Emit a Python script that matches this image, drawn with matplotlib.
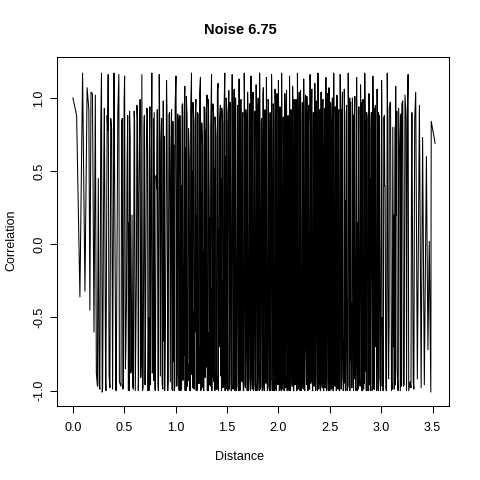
import numpy as np
import matplotlib
matplotlib.use("Agg")
import matplotlib.pyplot as plt

plt.rcParams['font.family'] = ['Liberation Sans', 'DejaVu Sans']

title = "Noise 6.75"
x_label = "Distance"
y_label = "Correlation"
x_ticks = [0.0, 0.5, 1.0, 1.5, 2.0, 2.5, 3.0, 3.5]
y_ticks = [-1.0, -0.5, 0.0, 0.5, 1.0]

# main swings
distance = [
    0.000, 0.036, 0.068, 0.094, 0.117, 0.138, 0.155, 0.165, 0.176, 0.190, 0.205, 0.218, 0.228, 0.238,
    0.247, 0.262, 0.278, 0.285, 0.301, 0.318, 0.333, 0.343, 0.360, 0.377, 0.400, 0.418, 0.432, 0.447, 0.468,
    0.480, 0.492, 0.503, 0.515, 0.527, 0.540, 0.551, 0.563, 0.575, 0.588,
    0.600, 0.612, 0.623, 0.636, 0.648, 0.660, 0.671, 0.683, 0.695, 0.708,
    0.720, 0.731, 0.743, 0.755, 0.768, 0.780, 0.791, 0.803, 0.815, 0.828,
    0.840, 0.851, 0.863, 0.875, 0.888, 0.900, 0.911, 0.923, 0.935, 0.948,
    0.960, 0.970, 0.981, 0.992, 1.003, 1.014, 1.025, 1.035, 1.046, 1.057,
    1.068, 1.079, 1.089, 1.100, 1.111, 1.122, 1.133, 1.143, 1.154, 1.165,
    1.176, 1.187, 1.197, 1.208, 1.219, 1.230, 1.241, 1.251, 1.262, 1.273,
    1.284, 1.295, 1.305, 1.316, 1.327, 1.338, 1.349, 1.359, 1.370, 1.381,
    1.392, 1.403, 1.413, 1.424, 1.435, 1.446, 1.457, 1.467, 1.478, 1.489,
    1.500, 1.508, 1.517, 1.525, 1.533, 1.542, 1.550, 1.558, 1.567, 1.575,
    1.583, 1.592, 1.600, 1.608, 1.617, 1.625, 1.633, 1.642, 1.650, 1.658,
    1.667, 1.675, 1.683, 1.692, 1.700, 1.708, 1.717, 1.725, 1.733, 1.742,
    1.750, 1.758, 1.767, 1.775, 1.783, 1.792, 1.800, 1.808, 1.817, 1.825,
    1.833, 1.842, 1.850, 1.858, 1.867, 1.875, 1.883, 1.892, 1.900, 1.908,
    1.917, 1.925, 1.933, 1.942, 1.950, 1.958, 1.967, 1.975, 1.983, 1.992,
    2.000, 2.008, 2.015, 2.023, 2.031, 2.038, 2.046, 2.054, 2.062, 2.069,
    2.077, 2.085, 2.092, 2.100, 2.108, 2.115, 2.123, 2.131, 2.138, 2.146,
    2.154, 2.162, 2.169, 2.177, 2.185, 2.192, 2.200, 2.208, 2.215, 2.223,
    2.231, 2.238, 2.246, 2.254, 2.262, 2.269, 2.277, 2.285, 2.292, 2.300,
    2.308, 2.315, 2.323, 2.331, 2.338, 2.346, 2.354, 2.362, 2.369, 2.377,
    2.385, 2.392, 2.400, 2.408, 2.415, 2.423, 2.431, 2.438, 2.446, 2.454,
    2.462, 2.469, 2.477, 2.485, 2.492, 2.500, 2.508, 2.515, 2.523, 2.531,
    2.538, 2.546, 2.554, 2.562, 2.569, 2.577, 2.585, 2.592,
    2.601, 2.611, 2.619, 2.630, 2.641, 2.649, 2.660, 2.671, 2.679, 2.690,
    2.701, 2.709, 2.720, 2.731, 2.739, 2.750, 2.761, 2.769, 2.780, 2.791,
    2.799, 2.810, 2.821, 2.829, 2.840, 2.851, 2.859, 2.870, 2.881, 2.889,
    2.900, 2.911, 2.919, 2.930, 2.941, 2.949, 2.960, 2.971, 2.979, 2.990,
    3.004, 3.018, 3.031, 3.045, 3.059, 3.072, 3.086, 3.100, 3.113, 3.127, 3.141, 3.155, 3.170, 3.186,
    3.201, 3.216, 3.232, 3.247, 3.262, 3.281, 3.299, 3.318, 3.336, 3.352,
    3.372, 3.389, 3.403, 3.420, 3.440, 3.455, 3.468, 3.483, 3.487, 3.525,
]

correlation = [
    1.00, 0.88, -0.36, 1.17, -0.32, 1.07, 0.92, -0.45, 1.04, 1.03, -0.60, 1.02, -0.88, -0.97,
    0.45, -0.99, 1.17, -1.01, 0.62, -0.93, 0.88, 1.16, -0.98, 0.79, 1.17, -1.00, 0.35, 1.16, -0.97,
    0.86, -0.95, 1.15, -0.72, 0.52, -1.00, 0.91, -0.88, 0.20, -0.99,
    0.84, -0.64, 0.95, -1.00, 0.70, -0.91, 1.16, -0.98, 0.88, -0.45,
    0.93, -1.00, 0.61, -0.96, 1.17, -0.83, 0.90, -1.00, 0.38, -0.97,
    1.16, -0.90, 0.86, -0.99, 0.74, -0.55, 1.12, -1.00, 0.89, -0.94,
    0.92, -1.00, 0.68, -0.97, 1.15, -0.88, 0.85, -1.00, 0.42, -0.99,
    0.96, -0.76, 1.08, -1.00, 0.87, -0.93, 0.57, -1.00, 1.17, -0.98,
    0.82, -0.60, 0.99, -1.00, 0.89, -0.95, 1.14, -0.99, 0.66, -1.00,
    0.93, -0.84, 1.02, -1.00, 0.31, -0.97, 1.16, -0.91, 0.88, -1.00,
    0.74, -0.99, 1.10, -0.70, 0.95, -1.00, 0.83, -0.96, 1.17, -0.99,
    0.90, -1.00, 1.05, -0.93, 0.78, -1.00, 1.16, -0.99, 0.95, -0.81,
    1.00, -1.00, 0.64, -0.97, 1.13, -1.00, 0.98, -0.90, 0.86, -1.00,
    1.17, -0.96, 0.92, -0.72, 1.04, -1.00, 0.80, -0.99, 1.15, -0.94,
    0.97, -1.00, 0.55, -0.98, 1.09, -1.00, 0.94, -0.87, 1.17, -0.99,
    0.83, -1.00, 1.02, -0.95, 0.91, -0.66, 1.14, -1.00, 0.99, -0.97,
    0.72, -1.00, 1.16, -0.92, 0.96, -1.00, 1.06, -0.99, 0.87, -0.85,
    1.12, -1.00, 0.94, -0.97, 1.17, -0.99, 0.86, -1.00, 1.03, -0.91,
    0.97, -1.00, 0.61, -0.98, 1.15, -1.00, 0.92, -0.84, 1.08, -1.00,
    0.99, -0.96, 0.77, -1.00, 1.17, -0.99, 0.90, -0.93, 1.05, -1.00,
    0.84, -0.98, 1.13, -1.00, 0.96, -0.75, 1.01, -1.00, 0.89, -0.99,
    1.16, -0.95, 0.93, -1.00, 0.70, -0.97, 1.10, -1.00, 0.98, -0.88,
    1.17, -0.99, 0.85, -1.00, 1.04, -0.94, 0.95, -1.00, 0.66, -0.98,
    1.14, -1.00, 0.91, -0.90, 1.07, -1.00, 0.97, -0.99, 0.82, -1.00,
    1.17, -0.96, 0.94, -1.00, 1.02, -0.86, 0.88, -1.00,
    1.16, -0.99, 0.93, -1.00, 1.06, -0.95, 0.85, -1.00, 1.17, -0.98,
    0.96, -0.80, 1.00, -1.00, 0.88, -0.97, 1.14, -1.00, 0.74, -0.93,
    1.09, -1.00, 0.95, -0.99, 1.17, -0.87, 0.90, -1.00, 1.03, -0.96,
    0.79, -1.00, 1.15, -0.99, 0.92, -0.70, 1.06, -1.00, 0.86, -0.95,
    1.12, -1.00, 0.88, -0.98, 1.17, -0.92, 0.97, -1.00, 0.80, -0.99, 1.08, -0.85, 0.93, -1.00,
    0.96, -0.97, 1.02, -1.00, 1.16, -0.94, 0.90, -0.99, 1.04, -0.92,
    0.95, -0.98, 0.73, -0.96, 0.60, -0.72, 0.02, -1.01, 0.84, 0.69,
]

# intermediate readings in the dense middle section
distance_mid = [
    0.521, 0.545, 0.569, 0.594, 0.618, 0.642, 0.666, 0.689, 0.714, 0.737,
    0.761, 0.786, 0.809, 0.834, 0.857, 0.882, 0.905, 0.929, 0.954, 0.976,
    1.008, 1.030, 1.052, 1.073, 1.095, 1.117, 1.138, 1.160, 1.181, 1.203,
    1.225, 1.246, 1.268, 1.289, 1.311, 1.333, 1.354, 1.376, 1.397, 1.419,
    1.441, 1.462, 1.484,
    1.504, 1.521, 1.538, 1.554, 1.571, 1.588, 1.604, 1.621, 1.638, 1.654,
    1.671, 1.688, 1.704, 1.721, 1.738, 1.754, 1.771, 1.788, 1.804, 1.821,
    1.838, 1.854, 1.871, 1.888, 1.904, 1.921, 1.938, 1.954, 1.971, 1.988,
    2.004, 2.019, 2.035, 2.050, 2.066, 2.081, 2.096, 2.112, 2.127, 2.142,
    2.158, 2.173, 2.188, 2.204, 2.219, 2.235, 2.250, 2.265, 2.281, 2.296,
    2.312, 2.327, 2.342, 2.358, 2.373, 2.389, 2.404, 2.419, 2.435, 2.450,
    2.466, 2.481, 2.496, 2.512, 2.527, 2.542, 2.558, 2.573, 2.589,
    2.606, 2.625, 2.645, 2.665, 2.685, 2.705, 2.725, 2.745, 2.765, 2.785,
    2.805, 2.825, 2.845, 2.865, 2.885, 2.905, 2.925, 2.945, 2.965, 2.985,
    3.011, 3.038, 3.066, 3.093, 3.120, 3.148,
    2.614, 2.634, 2.654, 2.674, 2.694, 2.714, 2.734, 2.754, 2.774, 2.794,
    2.814, 2.834, 2.854, 2.874, 2.894, 2.914, 2.934, 2.954, 2.974, 2.994,
    3.007, 3.021, 3.035, 3.048, 3.063, 3.077, 3.091, 3.108, 3.122, 3.138,
    3.152, 3.166, 3.180, 3.196, 3.210, 3.226, 3.242, 3.268, 3.295, 3.312,
]

correlation_mid = [
    -0.40, 0.15, -0.85, 0.55, -0.20, 0.33, -0.75, 0.05, 0.62, -0.50,
    0.28, -0.93, 0.47, -0.10, 0.71, -0.66, 0.12, -0.35, 0.58, -0.80,
    0.25, -0.55, 0.40, -0.15, 0.66, -0.82, 0.08, 0.50, -0.45, 0.20,
    -0.70, 0.35, -0.05, 0.78, -0.60, 0.18, -0.30, 0.52, -0.88, 0.10,
    0.45, -0.25, 0.60,
    -0.48, 0.22, -0.77, 0.40, 0.02, -0.58, 0.68, -0.18, 0.30, -0.90,
    0.55, -0.35, 0.12, 0.75, -0.62, 0.28, -0.08, 0.48, -0.72, 0.16,
    0.63, -0.42, 0.05, -0.85, 0.38, -0.22, 0.70, -0.55, 0.20, -0.12,
    0.45, -0.68, 0.10, 0.58, -0.30, 0.25, -0.80, 0.42, -0.05, 0.72,
    -0.50, 0.15, -0.38, 0.60, -0.75, 0.32, 0.00, -0.60, 0.50, -0.20,
    0.80, -0.45, 0.18, -0.88, 0.35, -0.12, 0.65, -0.55, 0.08, 0.48,
    -0.70, 0.22, -0.28, 0.75, -0.40, 0.12, -0.82, 0.55, -0.15,
    0.38, -0.62, 0.15, -0.30, 0.70, -0.48, 0.05, 0.52, -0.78, 0.25,
    -0.10, 0.62, -0.55, 0.30, -0.85, 0.45, -0.20, 0.68, -0.40, 0.10,
    -0.50, 0.40, -0.25, 0.55, -0.70, 0.20,
    0.92, -0.99, 0.30, -0.97, 1.00, -0.40, 0.88, -1.00, 0.15, -0.95,
    0.97, -0.60, 0.85, -1.00, 0.45, -0.98, 0.93, -0.20, 0.90, -1.00,
    0.95, -0.98, 0.40, -1.00, 0.88, -0.55, 0.97, -0.99, 0.20, -0.96,
    0.91, -1.00, 0.60, -0.97, 0.98, -0.35, 0.86, -1.00, 0.50, -0.94,
]

# further full-range swings between the readings above
distance_swing = [
    0.255, 0.271, 0.289, 0.306, 0.321, 0.338, 0.352, 0.368, 0.386, 0.404,
    0.421, 0.437, 0.452, 0.474, 0.486, 0.498, 0.511, 0.533, 0.548, 0.557,
    0.582, 0.596, 0.607, 0.629, 0.639, 0.654, 0.677, 0.692, 0.702, 0.725,
    0.740, 0.749, 0.772, 0.784, 0.797, 0.821, 0.832, 0.845, 0.868, 0.879,
    0.893, 0.916, 0.926, 0.941, 0.963, 0.973, 0.986, 0.995, 1.011, 1.020,
    1.031, 1.041, 1.050, 1.062, 1.071, 1.083, 1.092, 1.104, 1.113, 1.125,
    1.136, 1.146, 1.157, 1.168, 1.179, 1.190, 1.200, 1.211, 1.222, 1.233,
    1.244, 1.254, 1.265, 1.276, 1.287, 1.298, 1.308, 1.319, 1.330, 1.341,
    1.352, 1.362, 1.373, 1.384, 1.395, 1.406, 1.416, 1.427, 1.438, 1.449,
    1.460, 1.470, 1.481, 1.492, 1.502, 1.512, 1.523, 1.531, 1.540, 1.548,
    1.560, 1.569, 1.577, 1.585, 1.594, 1.602, 1.613, 1.619, 1.629, 1.636,
    1.646, 1.653, 1.662, 1.670, 1.679, 1.686, 1.696, 1.703, 1.713, 1.719,
    1.729, 1.736, 1.746, 1.753, 1.762, 1.770, 1.779, 1.786, 1.796, 1.803,
    1.813, 1.819, 1.829, 1.836, 1.846, 1.853, 1.862, 1.870, 1.879, 1.886,
    1.896, 1.903, 1.913, 1.919, 1.929, 1.936, 1.946, 1.953, 1.962, 1.970,
    1.979, 1.986, 1.996, 2.002, 2.011, 2.017, 2.027, 2.033, 2.042, 2.048,
    2.057, 2.064, 2.073, 2.079, 2.088, 2.094, 2.104, 2.110, 2.119, 2.125,
    2.134, 2.140, 2.150, 2.156, 2.165, 2.171, 2.180, 2.187, 2.196, 2.202,
    2.211, 2.217, 2.227, 2.233, 2.242, 2.248, 2.257, 2.264, 2.273, 2.279,
    2.288, 2.294, 2.304, 2.310, 2.319, 2.325, 2.334, 2.340, 2.350, 2.356,
    2.365, 2.371, 2.380, 2.387, 2.396, 2.402, 2.411, 2.417, 2.427, 2.433,
    2.442, 2.448, 2.457, 2.464, 2.473, 2.479, 2.488, 2.494, 2.504, 2.510,
    2.519, 2.525, 2.534, 2.540, 2.550, 2.556, 2.565, 2.571, 2.580, 2.587,
    2.596, 2.604, 2.615, 2.623, 2.635, 2.644, 2.655, 2.663, 2.675, 2.683,
    2.695, 2.704, 2.715, 2.723, 2.735, 2.744, 2.755, 2.763, 2.775, 2.783,
    2.795, 2.804, 2.815, 2.823, 2.835, 2.844, 2.855, 2.863, 2.875, 2.883,
    2.895, 2.904, 2.915, 2.923, 2.935, 2.944, 2.955, 2.963, 2.975, 2.983,
    3.010, 3.025, 3.052, 3.079, 3.106, 3.134, 3.162, 3.193, 3.224, 3.255,
    3.290, 3.326,
]

correlation_swing = [
    -0.96, 0.82, -0.98, 0.93, -1.00, 0.78, -0.90, 0.86, -0.99, 0.65,
    -1.00, 0.90, -0.94, 0.83, -0.99, 0.97, -0.85, 0.88, -1.00, 0.74,
    -0.97, 0.91, -1.00, 0.85, -0.92, 0.99, -1.00, 0.80, -0.96, 0.89,
    -1.00, 0.94, -0.88, 0.86, -0.99, 0.92, -1.00, 0.81, -0.95, 0.98,
    -1.00, 0.87, -0.93, 0.90, -0.99, 0.84, -1.00, 0.95, -0.97, 0.89,
    -0.99, 0.88, -1.00, 0.95, -0.93, 0.84, -1.00, 1.01, -0.97, 0.79,
    -1.00, 0.92, -0.89, 0.97, -0.99, 0.86, -1.00, 0.90, -0.95, 1.03,
    -1.00, 0.83, -0.98, 0.94, -0.91, 0.88, -1.00, 0.99, -0.96, 0.81,
    -1.00, 0.96, -0.94, 0.87, -0.99, 1.05, -1.00, 0.85, -0.90, 0.93,
    -0.98, 0.89, -1.00, 1.00, -0.95, 0.82, -0.99, 0.97, -1.00, 0.91,
    -0.92, 1.06, -1.00, 0.88, -0.97, 0.95, -1.00, 0.84, -0.99, 0.99,
    -0.94, 0.90, -1.00, 1.02, -0.98, 0.87, -1.00, 0.93, -0.91, 0.96,
    -1.00, 0.85, -0.99, 1.04, -0.96, 0.91, -1.00, 0.89, -0.93, 1.00,
    -1.00, 0.94, -0.97, 0.86, -0.99, 1.07, -1.00, 0.92, -0.95, 0.88,
    -0.98, 0.97, -1.00, 0.90, -0.92, 1.01, -1.00, 0.86, -0.99, 0.95,
    -1.00, 1.03, -0.96, 0.89, -0.99, 0.93, -1.00, 0.98, -0.94, 0.87,
    -1.00, 0.92, -0.98, 1.05, -0.91, 0.88, -1.00, 0.96, -0.99, 0.90,
    -0.97, 1.00, -1.00, 0.85, -0.95, 0.99, -1.00, 0.93, -0.98, 1.04,
    -1.00, 0.89, -0.93, 0.97, -0.99, 0.91, -1.00, 1.02, -0.96, 0.86,
    -1.00, 0.95, -0.99, 0.88, -0.92, 1.06, -1.00, 0.90, -0.97, 0.94,
    -0.99, 0.87, -1.00, 1.01, -0.95, 0.92, -1.00, 0.85, -0.98, 0.99,
    -1.00, 0.93, -0.96, 0.89, -0.99, 1.03, -1.00, 0.96, -0.93, 0.88,
    -0.98, 1.00, -1.00, 0.91, -0.97, 0.86, -1.00, 0.98, -0.99, 0.92,
    -1.00, 0.88, -0.94, 1.04, -0.99, 0.90, -1.00, 0.95, -0.96, 0.83,
    -1.00, 0.97, -0.98, 0.87, -0.92, 1.01, -1.00, 0.89, -0.99, 0.94,
    -0.97, 0.85, -1.00, 0.99, -0.95, 0.91, -1.00, 0.86, -0.98, 1.02,
    -1.00, 0.90, -0.96, 0.84, -0.99, 0.95, -1.00, 0.81, -0.93, 0.88,
    -0.97, 0.86, -1.00, 0.92, -0.95, 0.80, -0.99, 0.89, -0.96, 0.94,
    -0.98, 0.85,
]

x_all = np.array(distance + distance_mid + distance_swing)
y_all = np.array(correlation + correlation_mid + correlation_swing)
order = np.argsort(x_all, kind="stable")

fig = plt.figure(figsize=(4.8, 4.8), dpi=100)
ax = fig.add_axes([57/480, 1-406/480, (449-57)/480, (406-57)/480])
ax.plot(x_all[order], y_all[order], color="black", linewidth=0.75)

ax.set_xlim(-0.155, 3.66)
ax.set_ylim(-1.105, 1.28)
ax.set_xticks(x_ticks)
ax.set_xticklabels([f"{v:.1f}" for v in x_ticks])
ax.set_yticks(y_ticks)
ax.set_yticklabels([f"{v:.1f}" for v in y_ticks], rotation=90, va="center")
ax.tick_params(direction="out", length=5, width=0.75, labelsize=9, colors="black")
ax.tick_params(axis="x", pad=6.5)
ax.tick_params(axis="y", pad=3.5)
for s in ax.spines.values():
    s.set_linewidth(0.75)

fig.text(0.5, 1-30/480, title, ha="center", va="center", fontsize=10.5, fontweight="bold")
fig.text(0.5, 1-457/480, x_label, ha="center", va="center", fontsize=9)
fig.text(11/480, 0.5, y_label, ha="center", va="center", rotation=90, fontsize=9)

fig.savefig("out.png", dpi=100)
